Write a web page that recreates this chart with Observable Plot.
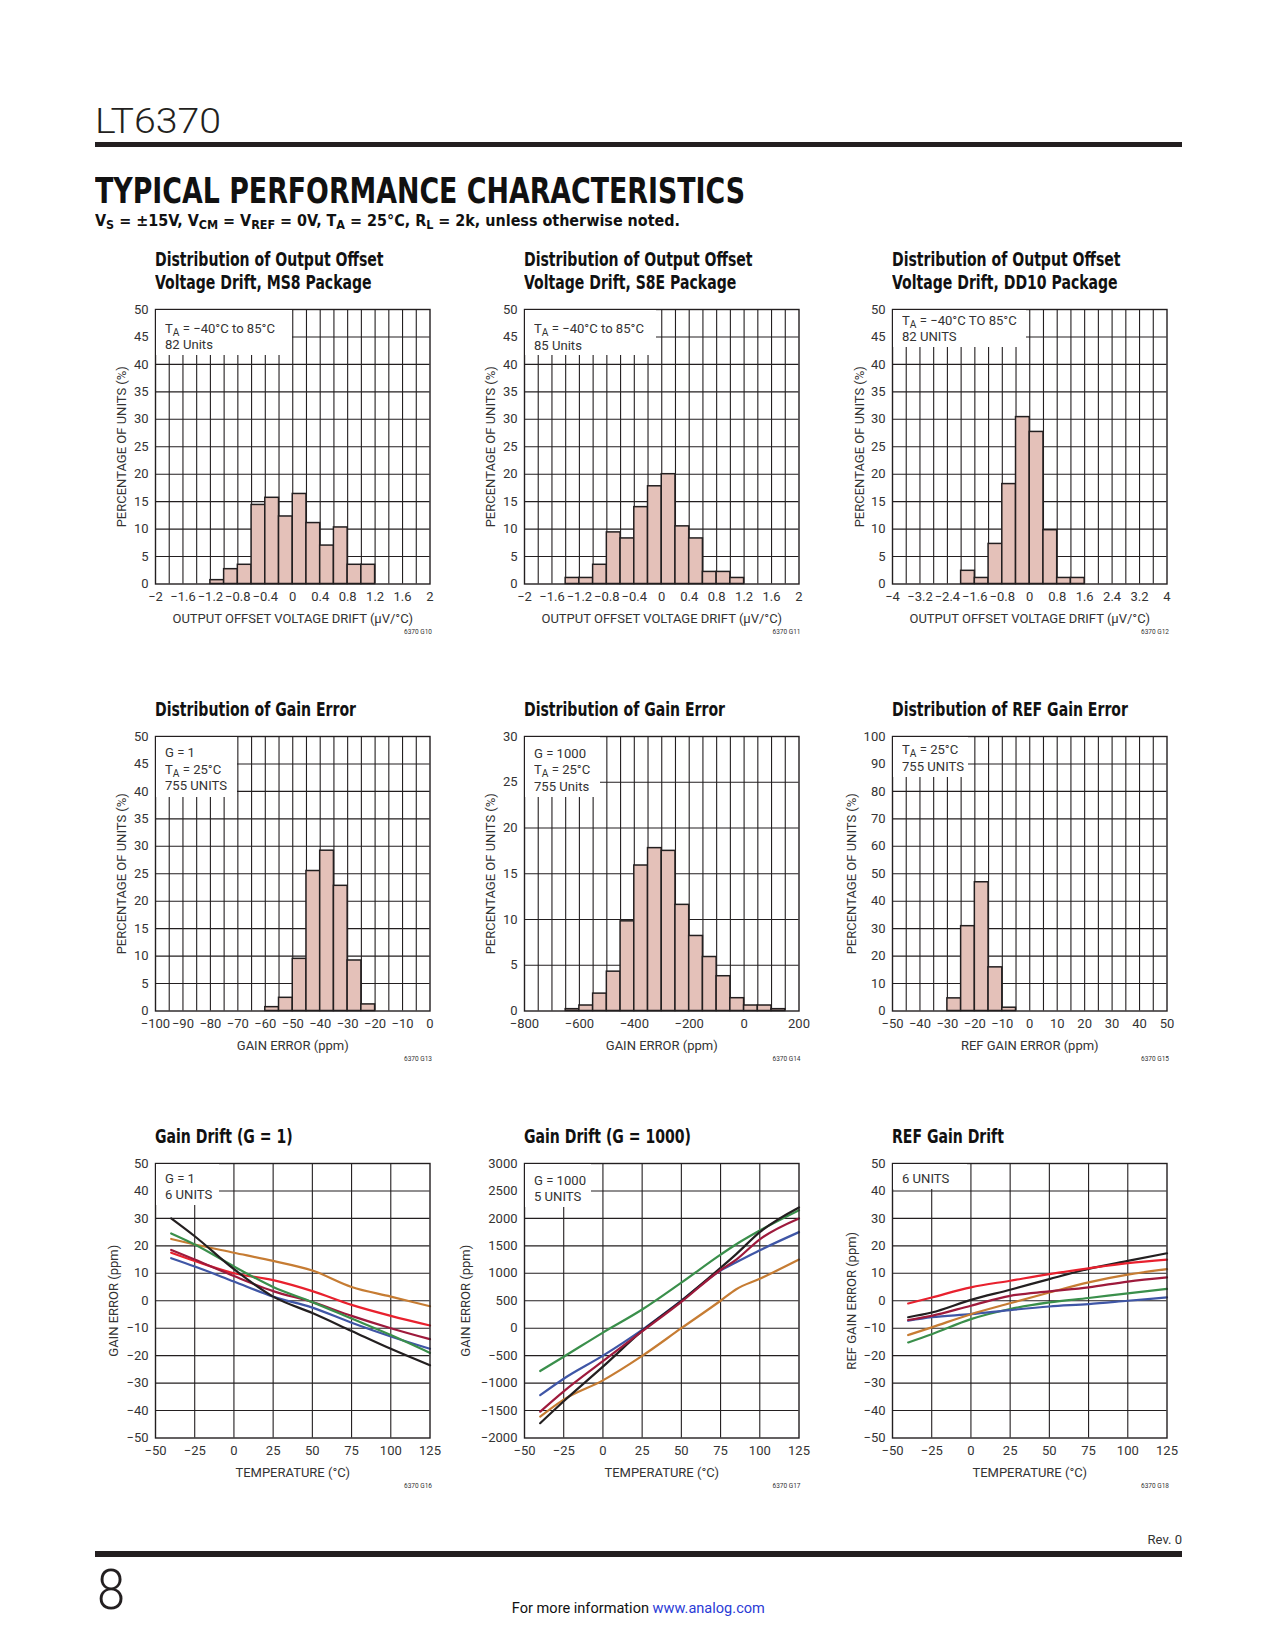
<!DOCTYPE html>
<html><head><meta charset="utf-8">
<script src="https://cdn.jsdelivr.net/npm/d3@7"></script>
<script src="https://cdn.jsdelivr.net/npm/@observablehq/plot@0.6"></script>
<style>
body{margin:0;background:#fff;}
#page{position:relative;width:1275px;height:1650px;overflow:hidden;background:#fff;color:#231f20;}
#page span{position:absolute;white-space:nowrap;line-height:1;}
.sub{position:relative !important;font-size:0.78em;vertical-align:-0.28em;}
.box{position:absolute;background:#fff;}
</style></head><body><div id="page"></div>
<script>
// ---------------- DATA ----------------
// Chart 1: MS8 output offset voltage drift distribution (bin width 0.2 µV/°C)
const ms8BinStart = [-1.2,-1.0,-0.8,-0.6,-0.4,-0.2,0,0.2,0.4,0.6,0.8,1.0];
const ms8Percent  = [0.7,2.7,3.5,14.4,15.7,12.3,16.4,11.1,7.0,10.3,3.5,3.5];
const ms8XTicks   = [-2,-1.6,-1.2,-0.8,-0.4,0,0.4,0.8,1.2,1.6,2];
// Chart 2: S8E
const s8eBinStart = [-1.4,-1.2,-1.0,-0.8,-0.6,-0.4,-0.2,0,0.2,0.4,0.6,0.8,1.0];
const s8ePercent  = [1.1,1.1,3.5,9.4,8.3,14.0,17.8,20.0,10.5,8.3,2.2,2.2,1.1];
const s8eXTicks   = [-2,-1.6,-1.2,-0.8,-0.4,0,0.4,0.8,1.2,1.6,2];
// Chart 3: DD10 (bin width 0.4)
const dd10BinStart = [-2.0,-1.6,-1.2,-0.8,-0.4,0,0.4,0.8,1.2];
const dd10Percent  = [2.4,1.1,7.3,18.2,30.4,27.7,9.8,1.1,1.1];
const dd10XTicks   = [-4,-3.2,-2.4,-1.6,-0.8,0,0.8,1.6,2.4,3.2,4];
// Chart 4: gain error G=1 (bin width 5 ppm)
const gainG1BinStart = [-60,-55,-50,-45,-40,-35,-30,-25];
const gainG1Percent  = [0.7,2.4,9.5,25.5,29.2,22.8,9.2,1.2];
const gainG1XTicks   = [-100,-90,-80,-70,-60,-50,-40,-30,-20,-10,0];
// Chart 5: gain error G=1000 (bin width 50 ppm)
const gainG1000BinStart = [-650,-600,-550,-500,-450,-400,-350,-300,-250,-200,-150,-100,-50,0,50,100];
const gainG1000Percent  = [0.2,0.6,1.9,4.3,9.8,15.9,17.8,17.5,11.6,8.2,5.9,3.8,1.4,0.6,0.6,0.2];
const gainG1000XTicks   = [-800,-600,-400,-200,0,200];
// Chart 6: REF gain error (bin width 5 ppm)
const refBinStart = [-30,-25,-20,-15,-10];
const refPercent  = [4.6,30.9,46.9,15.9,1.2];
const refXTicks   = [-50,-40,-30,-20,-10,0,10,20,30,40,50];

const pctTicks50  = [0,5,10,15,20,25,30,35,40,45,50];
const pctTicks30  = [0,5,10,15,20,25,30];
const pctTicks100 = [0,10,20,30,40,50,60,70,80,90,100];

// Chart 7: Gain drift G=1 (ppm vs °C)
const driftG1Temp   = [-40,-25,0,25,50,75,100,125];
const driftG1Black  = [30,23.5,11.5,1.5,-4.5,-11,-17.5,-23.5];
const driftG1Green  = [24.5,20.5,12.5,5,-0.5,-6.5,-12.5,-19];
const driftG1Orange = [22.5,20.5,17.5,14.5,11,5,1.5,-2];
const driftG1Red    = [17.5,14.5,10,7.5,3.5,-1.5,-5.5,-9];
const driftG1Maroon = [18.5,15,9,3.5,-0.5,-5.5,-10,-14];
const driftG1Blue   = [15.5,12.5,7,1.5,-2.5,-8,-13,-17.5];
// Chart 8: Gain drift G=1000
const driftG1000Temp   = [-40,-25,0,25,50,75,85,100,125];
const driftG1000Green  = [-780,-520,-80,340,830,1340,1530,1780,2150];
const driftG1000Black  = [-1730,-1330,-700,-50,500,1100,1350,1750,2200];
const driftG1000Maroon = [-1520,-1150,-600,-60,480,1060,1250,1620,2000];
const driftG1000Blue   = [-1220,-920,-500,-30,500,1050,1200,1420,1750];
const driftG1000Orange = [-1610,-1300,-950,-505,0,500,710,900,1250];
// Chart 9: REF gain drift
const refDriftTemp   = [-40,-25,0,25,50,75,100,125];
const refDriftRed    = [-1,1.2,4.9,7.3,9.7,11.8,13.7,15];
const refDriftBlack  = [-6,-4.3,0.3,4,7.9,11.6,14.5,17.3];
const refDriftMaroon = [-7,-5.5,-1.8,1.8,3.4,4.9,7,8.5];
const refDriftOrange = [-12.5,-9.7,-4.9,-0.9,3,6.7,9.5,11.5];
const refDriftGreen  = [-15.2,-12.2,-6.7,-3,-0.6,1,2.7,4.3];
const refDriftBlue   = [-7.3,-6,-4.9,-3.4,-2.1,-1.2,0,1.2];

const tempTicks   = [-50,-25,0,25,50,75,100,125];
const ppmTicks50  = [-50,-40,-30,-20,-10,0,10,20,30,40,50];
const ppmTicks3000 = [-2000,-1500,-1000,-500,0,500,1000,1500,2000,2500,3000];

// ---------------- STYLE / LAYOUT ----------------
const FONT = '"Liberation Sans Narrow","Arial Narrow","DejaVu Sans Condensed",Roboto,sans-serif';
const AXFONT = 'Roboto,"Liberation Sans",sans-serif';
const INK = "#231f20", TXT = "#333333";
const C = {black:"#231f20", green:"#3a8f4b", orange:"#c67c33", red:"#e8212e", maroon:"#9e1a3c", blue:"#3f56a6"};
const BAR = "#e4c1b9";
const COLS = [155, 523.5, 892], ROWS = [308.5, 735.8, 1162.5], PW = 274.5, PH = 274.5;
const ML = 75, MT = 10, MR = 22, MB = 50;
const page = document.getElementById("page");

function fmt(d){ let s = String(+(+d).toFixed(3)); if (s === "-0") s = "0"; return s.replace("-", "\u2212"); }

function measure(html, size, weight, family){
  const s = document.createElement("span");
  s.innerHTML = html;
  s.style.cssText = `font-family:${family};font-size:${size}px;font-weight:${weight};visibility:hidden;`;
  page.appendChild(s); const w = s.getBoundingClientRect().width; s.remove(); return w;
}
function label(html, {x, baseline, size, weight=400, color=INK, family=FONT, align="left", width=null, scale=null, parent=page}){
  const s = document.createElement("span");
  s.innerHTML = html;
  s.style.fontFamily = family; s.style.fontSize = size+"px"; s.style.fontWeight = weight; s.style.color = color;
  parent.appendChild(s);
  const nat = s.getBoundingClientRect().width;
  const k = width ? width/nat : (scale || 1);
  let left = x;
  if (align === "right") { left = x - nat; s.style.transformOrigin = "100% 0"; }
  else if (align === "center") { left = x - nat/2; s.style.transformOrigin = "50% 0"; }
  else s.style.transformOrigin = "0 0";
  s.style.transform = `scaleX(${k})`;
  s.style.left = left + "px";
  s.style.top = (baseline - 0.846*size) + "px";
  return s;
}
function rule(y, h){ const d = document.createElement("div"); d.style.cssText = `position:absolute;left:95px;width:1087px;top:${y}px;height:${h}px;background:${INK};`; page.appendChild(d); }

function placeSvg(svg, col, row){
  svg.style.position = "absolute";
  svg.style.left = (COLS[col]-ML) + "px";
  svg.style.top = (ROWS[row]-MT) + "px";
  svg.style.overflow = "visible";
  page.appendChild(svg);
}

function axes(xTicks, yTicks, xLabel, yLabel, yLabelOffset){
  return [
    Plot.frame({stroke: INK, strokeWidth: 1.4}),
    Plot.axisX(xTicks, {tickSize: 0, tickPadding: 8, tickFormat: fmt, fill: TXT, label: xLabel, labelAnchor: "center", labelOffset: 39, labelArrow: "none"}),
    Plot.axisY(yTicks, {tickSize: 0, tickPadding: 7, tickFormat: fmt, fill: TXT, label: yLabel, labelAnchor: "center", labelOffset: yLabelOffset, labelArrow: "none"})
  ];
}
function baseOpts(xDomain, yDomain, marks){
  return {width: ML+PW+MR, height: MT+PH+MB, marginLeft: ML, marginRight: MR, marginTop: MT, marginBottom: MB,
    x: {domain: xDomain}, y: {domain: yDomain},
    style: {fontFamily: AXFONT, fontSize: "13px", color: TXT, background: "transparent", overflow: "visible"},
    marks};
}

function histogram({col, row, binStart, pct, binW, xDomain, xTicks, yTicks, xLabel, yLabel, yLabelOffset}){
  const data = binStart.map((b, i) => ({x1: b, x2: b + binW, y: pct[i]}));
  const yMax = yTicks[yTicks.length-1], yStep = yTicks[1]-yTicks[0];
  const gx = d3.range(xDomain[0] + binW, xDomain[1] - binW/2, binW);
  const gy = d3.range(yStep, yMax - yStep/2, yStep);
  const svg = Plot.plot(baseOpts(xDomain, [0, yMax], [
    Plot.gridX(gx, {stroke: INK, strokeOpacity: 1, strokeWidth: 1.1}),
    Plot.gridY(gy, {stroke: INK, strokeOpacity: 1, strokeWidth: 1.1}),
    Plot.rect(data, {x1: "x1", x2: "x2", y1: 0, y2: "y", fill: BAR, stroke: INK, strokeWidth: 1.5}),
    ...axes(xTicks, yTicks, xLabel, yLabel, yLabelOffset)
  ]));
  placeSvg(svg, col, row);
}

function lineChart({col, row, temps, series, xTicks, yTicks, xLabel, yLabel, yLabelOffset}){
  const yDomain = [yTicks[0], yTicks[yTicks.length-1]];
  const xDomain = [xTicks[0], xTicks[xTicks.length-1]];
  const marks = [
    Plot.gridX(xTicks.slice(1, -1), {stroke: INK, strokeOpacity: 1, strokeWidth: 1.1}),
    Plot.gridY(yTicks.slice(1, -1), {stroke: INK, strokeOpacity: 1, strokeWidth: 1.1})
  ];
  for (const [vals, color] of series) {
    marks.push(Plot.line(temps.map((t, i) => ({t, v: vals[i]})), {x: "t", y: "v", stroke: color, strokeWidth: 2.2, curve: "monotone-x"}));
  }
  marks.push(...axes(xTicks, yTicks, xLabel, yLabel, yLabelOffset));
  placeSvg(Plot.plot(baseOpts(xDomain, yDomain, marks)), col, row);
}

// ---------------- HEADER ----------------
label("LT6370", {x: 95, baseline: 133.8, size: 35, weight: 300, family: 'Roboto,"Liberation Sans",sans-serif', width: 126});
rule(141.5, 5.5);
label("TYPICAL PERFORMANCE CHARACTERISTICS", {x: 95, baseline: 203.5, size: 36, weight: 700, family: '"DejaVu Sans",sans-serif', width: 650, color: "#111"});
label('V<span class="sub">S</span> = ±15V, V<span class="sub">CM</span> = V<span class="sub">REF</span> = 0V, T<span class="sub">A</span> = 25°C, R<span class="sub">L</span> = 2k, unless otherwise noted.',
  {x: 95, baseline: 226.5, size: 16, weight: 700, width: 585, color: "#111"});

// ---------------- CHARTS ----------------
const PCT = "PERCENTAGE OF UNITS (%)";
histogram({col:0,row:0,binStart:ms8BinStart,pct:ms8Percent,binW:0.2,xDomain:[-2,2],xTicks:ms8XTicks,yTicks:pctTicks50,xLabel:"OUTPUT OFFSET VOLTAGE DRIFT (µV/°C)",yLabel:PCT,yLabelOffset:39});
histogram({col:1,row:0,binStart:s8eBinStart,pct:s8ePercent,binW:0.2,xDomain:[-2,2],xTicks:s8eXTicks,yTicks:pctTicks50,xLabel:"OUTPUT OFFSET VOLTAGE DRIFT (µV/°C)",yLabel:PCT,yLabelOffset:39});
histogram({col:2,row:0,binStart:dd10BinStart,pct:dd10Percent,binW:0.4,xDomain:[-4,4],xTicks:dd10XTicks,yTicks:pctTicks50,xLabel:"OUTPUT OFFSET VOLTAGE DRIFT (µV/°C)",yLabel:PCT,yLabelOffset:38});
histogram({col:0,row:1,binStart:gainG1BinStart,pct:gainG1Percent,binW:5,xDomain:[-100,0],xTicks:gainG1XTicks,yTicks:pctTicks50,xLabel:"GAIN ERROR (ppm)",yLabel:PCT,yLabelOffset:39});
histogram({col:1,row:1,binStart:gainG1000BinStart,pct:gainG1000Percent,binW:50,xDomain:[-800,200],xTicks:gainG1000XTicks,yTicks:pctTicks30,xLabel:"GAIN ERROR (ppm)",yLabel:PCT,yLabelOffset:39});
histogram({col:2,row:1,binStart:refBinStart,pct:refPercent,binW:5,xDomain:[-50,50],xTicks:refXTicks,yTicks:pctTicks100,xLabel:"REF GAIN ERROR (ppm)",yLabel:PCT,yLabelOffset:46});

lineChart({col:0,row:2,temps:driftG1Temp,series:[[driftG1Orange,C.orange],[driftG1Blue,C.blue],[driftG1Red,C.red],[driftG1Maroon,C.maroon],[driftG1Green,C.green],[driftG1Black,C.black]],
  xTicks:tempTicks,yTicks:ppmTicks50,xLabel:"TEMPERATURE (°C)",yLabel:"GAIN ERROR (ppm)",yLabelOffset:47});
lineChart({col:1,row:2,temps:driftG1000Temp,series:[[driftG1000Orange,C.orange],[driftG1000Blue,C.blue],[driftG1000Green,C.green],[driftG1000Black,C.black],[driftG1000Maroon,C.maroon]],
  xTicks:tempTicks,yTicks:ppmTicks3000,xLabel:"TEMPERATURE (°C)",yLabel:"GAIN ERROR (ppm)",yLabelOffset:64});
lineChart({col:2,row:2,temps:refDriftTemp,series:[[refDriftGreen,C.green],[refDriftBlue,C.blue],[refDriftOrange,C.orange],[refDriftMaroon,C.maroon],[refDriftBlack,C.black],[refDriftRed,C.red]],
  xTicks:tempTicks,yTicks:ppmTicks50,xLabel:"TEMPERATURE (°C)",yLabel:"REF GAIN ERROR (ppm)",yLabelOffset:46});

// ---------------- TITLES ----------------
const titleK = 201 / measure("Distribution of Gain Error", 19.5, 700, FONT);
const titles = [
  [0,0,["Distribution of Output Offset","Voltage Drift, MS8 Package"]],
  [1,0,["Distribution of Output Offset","Voltage Drift, S8E Package"]],
  [2,0,["Distribution of Output Offset","Voltage Drift, DD10 Package"]],
  [0,1,["Distribution of Gain Error"]],
  [1,1,["Distribution of Gain Error"]],
  [2,1,["Distribution of REF Gain Error"]],
  [0,2,["Gain Drift (G = 1)"]],
  [1,2,["Gain Drift (G = 1000)"]],
  [2,2,["REF Gain Drift"]]
];
for (const [c, r, lines] of titles) {
  lines.forEach((t, i) => label(t, {x: COLS[c], baseline: ROWS[r] - 19 - 23*(lines.length-1-i), size: 19.5, weight: 700, scale: titleK, color: "#111"}));
}

// ---------------- ANNOTATION BOXES ----------------
const TA = 'T<span class="sub">A</span>';
const annK = 62 / measure("755 UNITS", 13.5, 400, AXFONT);
const annots = [
  [0,0,137,46.5,24.8,[TA+" = \u221240°C to 85°C","82 Units"]],
  [1,0,133,46.5,25,[TA+" = \u221240°C to 85°C","85 Units"]],
  [2,0,134,38.5,16.8,[TA+" = \u221240°C TO 85°C","82 UNITS"]],
  [0,1,82,61,22,["G = 1",TA+" = 25°C","755 UNITS"]],
  [1,1,77,61,22.5,["G = 1000",TA+" = 25°C","755 Units"]],
  [2,1,76,41,19,[TA+" = 25°C","755 UNITS"]],
  [0,2,64,42.5,20.5,["G = 1","6 UNITS"]],
  [1,2,68,44.5,22.5,["G = 1000","5 UNITS"]],
  [2,2,75,26.3,21,["6 UNITS"]]
];
for (const [c, r, w, h, b0, lines] of annots) {
  const box = document.createElement("div");
  box.className = "box";
  box.style.left = (COLS[c]+1.2)+"px"; box.style.top = (ROWS[r]+1.2)+"px";
  box.style.width = (w-1.2)+"px"; box.style.height = (h-1.2)+"px";
  page.appendChild(box);
  lines.forEach((t, i) => label(t, {x: COLS[c]+10, baseline: ROWS[r]+b0+16.5*i, size: 13.5, scale: annK, color: TXT, family: AXFONT}));
}

// ---------------- FIGURE CODES ----------------
const codes = ["6370 G10","6370 G11","6370 G12","6370 G13","6370 G14","6370 G15","6370 G16","6370 G17","6370 G18"];
codes.forEach((t, i) => {
  const c = i % 3, r = Math.floor(i / 3);
  label(t, {x: COLS[c]+PW+2.5, baseline: ROWS[r]+PH+51, size: 6.5, align: "right", color: TXT, family: AXFONT});
});

// ---------------- FOOTER ----------------
label("Rev. 0", {x: 1182, baseline: 1545, size: 12.5, align: "right", width: 34.5, color: TXT, family: AXFONT});
rule(1551, 5.5);
label("8", {x: 97, baseline: 1610, size: 55, weight: 300, family: 'Roboto,"Liberation Sans",sans-serif', width: 28});
label('For more information <span style="position:relative;color:#2a3bd6">www.analog.com</span>', {x: 638.5, baseline: 1614, size: 15, align: "center", width: 253, color: "#111", family: AXFONT});
</script></body></html>
